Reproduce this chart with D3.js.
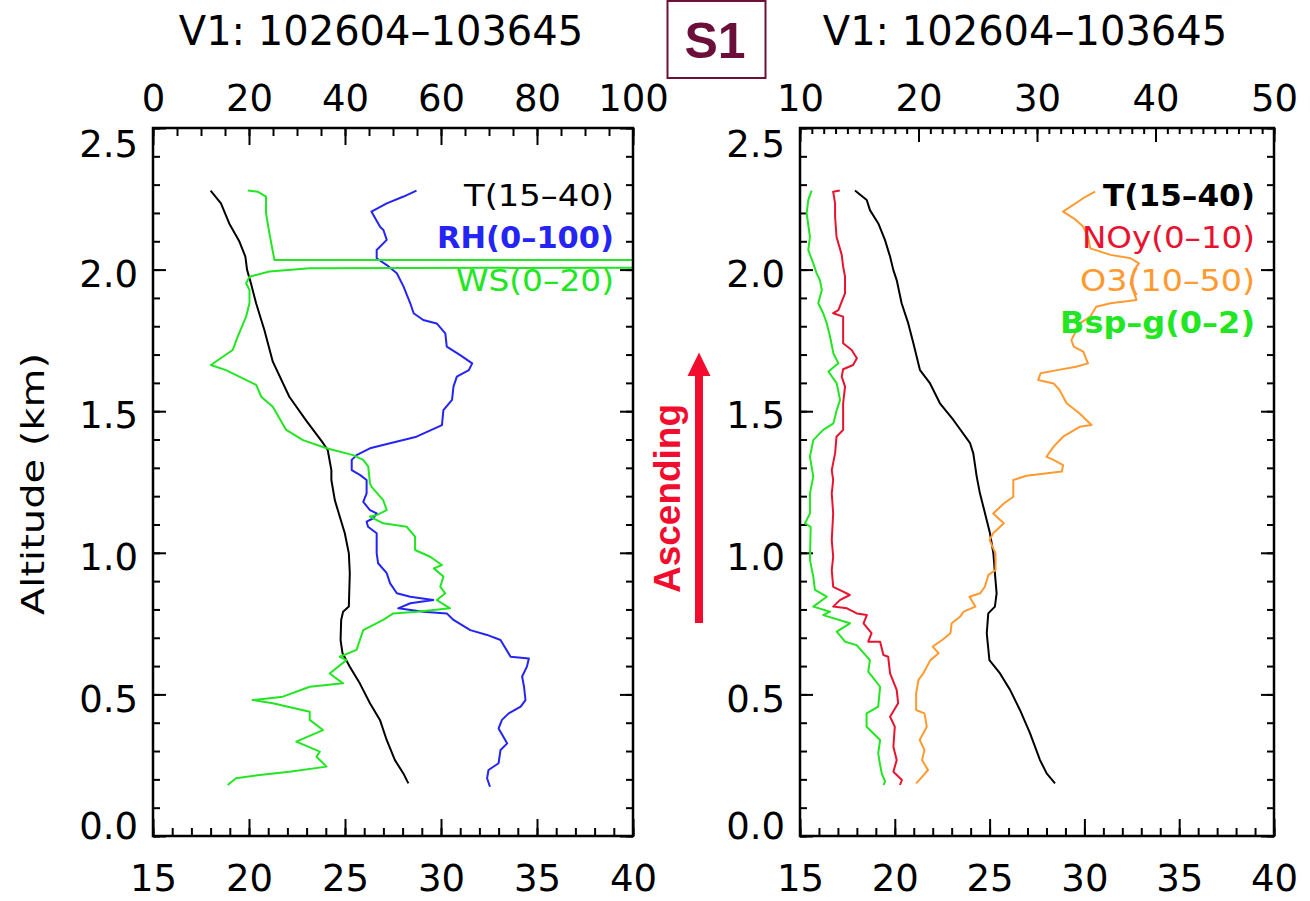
<!DOCTYPE html>
<html><head><meta charset="utf-8">
<script src="https://cdn.jsdelivr.net/npm/d3@7"></script>
<style>
html,body{margin:0;padding:0;background:#fff;}
svg{display:block;}
</style></head><body>
<svg id="c" width="1310" height="901"></svg>
<script>
// ---------------- DATA ----------------
// Each series: [value, altitude km]
const tempLeft = [[18.0,2.279],[18.54,2.234],[18.97,2.163],[19.5,2.099],[19.81,2.046],[19.9,1.999],[20.1,1.952],[20.37,1.881],[20.8,1.787],[21.24,1.675],[22.1,1.551],[22.99,1.466],[23.86,1.387],[24.1,1.363],[24.29,1.292],[24.29,1.257],[24.47,1.186],[24.73,1.127],[24.99,1.069],[25.2,0.998],[25.25,0.928],[25.2,0.81],[24.9,0.792],[24.8,0.763],[24.77,0.692],[24.87,0.645],[25.25,0.598],[25.77,0.539],[26.3,0.469],[26.82,0.41],[27.17,0.339],[27.6,0.268],[28.04,0.221],[28.3,0.186]];
const rhLeft = [[54.9,2.279],[52.2,2.258],[48.7,2.234],[45.5,2.205],[47.3,2.151],[48.0,2.14],[48.7,2.105],[46.6,2.069],[46.6,2.04],[48.7,2.016],[50.8,1.987],[52.2,1.94],[53.6,1.881],[54.3,1.846],[56.3,1.822],[59.1,1.81],[60.9,1.775],[61.2,1.728],[64.0,1.698],[66.5,1.669],[65.8,1.645],[63.3,1.622],[62.6,1.587],[62.3,1.54],[60.5,1.504],[60.2,1.451],[54.9,1.41],[49.4,1.387],[45.2,1.369],[42.4,1.345],[41.4,1.328],[41.4,1.292],[43.1,1.275],[44.5,1.257],[44.5,1.21],[43.8,1.18],[45.2,1.151],[46.6,1.139],[45.9,1.122],[44.5,1.11],[44.8,1.092],[46.6,1.069],[46.6,0.998],[46.9,0.963],[48.7,0.928],[49.4,0.892],[50.8,0.857],[53.6,0.845],[58.4,0.833],[53.6,0.822],[51.1,0.804],[56.3,0.792],[61.2,0.786],[62.6,0.763],[66.1,0.727],[69.6,0.71],[72.4,0.692],[74.5,0.633],[78.3,0.627],[77.9,0.598],[76.9,0.563],[77.3,0.527],[77.6,0.48],[76.6,0.457],[74.1,0.433],[72.7,0.41],[72.0,0.38],[73.8,0.327],[72.4,0.304],[72.0,0.257],[69.9,0.233],[69.6,0.204],[70.2,0.174]];
const wsLeft = [[3.95,2.279],[4.36,2.275],[4.71,2.258],[4.71,2.199],[4.85,2.128],[5.06,2.034],[60,2.034],[60,2.012],[6.53,2.005],[4.85,1.993],[4.02,1.975],[3.88,1.952],[4.02,1.928],[4.02,1.881],[3.88,1.834],[3.53,1.763],[3.32,1.716],[2.41,1.663],[3.04,1.645],[4.3,1.593],[4.51,1.551],[4.99,1.516],[5.55,1.434],[6.25,1.398],[7.23,1.369],[8.34,1.345],[8.76,1.328],[8.97,1.304],[9.04,1.245],[9.11,1.233],[9.59,1.186],[9.74,1.151],[9.32,1.133],[9.04,1.128],[9.59,1.104],[10.57,1.092],[10.92,1.057],[10.92,1.01],[11.55,0.986],[12.04,0.957],[11.7,0.945],[12.1,0.916],[11.97,0.88],[12.18,0.857],[11.83,0.833],[12.38,0.804],[11.0,0.792],[10.01,0.786],[9.59,0.763],[8.76,0.727],[8.62,0.692],[8.48,0.657],[7.78,0.633],[8.06,0.621],[7.36,0.574],[7.92,0.539],[6.53,0.527],[5.41,0.492],[4.15,0.48],[4.99,0.469],[6.53,0.439],[6.53,0.41],[7.08,0.374],[5.97,0.333],[6.95,0.298],[6.81,0.28],[7.23,0.245],[5.69,0.227],[4.44,0.215],[3.46,0.204],[3.11,0.18]];

const tempRight = [[17.9,2.279],[18.52,2.246],[18.69,2.21],[19.13,2.163],[19.48,2.105],[19.75,2.046],[19.92,1.999],[20.1,1.963],[20.36,1.881],[20.71,1.81],[20.98,1.74],[21.33,1.645],[21.86,1.598],[22.38,1.528],[23.09,1.469],[23.97,1.387],[24.14,1.351],[24.32,1.269],[24.49,1.21],[24.76,1.139],[25.02,1.069],[25.2,0.998],[25.28,0.928],[25.37,0.857],[25.28,0.81],[24.93,0.786],[24.85,0.716],[24.99,0.621],[25.55,0.574],[26.08,0.516],[26.6,0.445],[27.13,0.363],[27.66,0.268],[28.01,0.221],[28.45,0.186]];
const noyRight = [[0.84,2.279],[0.70,2.275],[0.74,2.234],[0.74,2.187],[0.77,2.116],[0.88,2.052],[0.91,2.011],[0.95,1.975],[0.95,1.916],[0.88,1.887],[0.81,1.857],[0.70,1.846],[0.91,1.834],[0.91,1.74],[1.09,1.716],[1.2,1.687],[1.12,1.663],[0.91,1.648],[0.88,1.622],[0.95,1.587],[0.91,1.528],[0.91,1.434],[0.77,1.41],[0.74,1.351],[0.67,1.292],[0.70,1.257],[0.67,1.21],[0.70,1.139],[0.67,1.045],[0.70,0.986],[0.67,0.939],[0.70,0.88],[0.91,0.863],[1.05,0.851],[0.84,0.833],[0.70,0.81],[0.99,0.804],[1.2,0.786],[1.41,0.78],[1.34,0.751],[1.51,0.716],[1.44,0.686],[1.69,0.686],[1.76,0.639],[1.86,0.633],[1.90,0.574],[2.04,0.516],[2.07,0.469],[1.90,0.421],[2.0,0.386],[1.97,0.315],[2.04,0.268],[1.97,0.227],[2.15,0.198],[2.11,0.18]];
const o3Right = [[34.9,2.275],[33.9,2.252],[32.2,2.205],[33.1,2.181],[33.9,2.152],[34.3,2.116],[34.5,2.075],[36.2,2.052],[37.9,2.04],[38.6,2.022],[38.2,1.999],[37.9,1.952],[38.4,1.893],[36.2,1.881],[35.0,1.869],[34.5,1.834],[33.6,1.81],[33.2,1.775],[32.9,1.751],[33.1,1.728],[33.9,1.71],[34.3,1.669],[33.3,1.657],[31.7,1.645],[30.3,1.634],[30.1,1.61],[31.4,1.598],[31.9,1.575],[32.5,1.528],[33.6,1.492],[34.6,1.451],[33.6,1.445],[32.2,1.41],[31.4,1.375],[30.8,1.339],[31.4,1.328],[32.2,1.31],[32.1,1.287],[29.1,1.272],[28.0,1.257],[28.0,1.198],[27.2,1.174],[26.3,1.139],[27.2,1.104],[26.3,1.069],[26.0,1.045],[26.5,0.998],[26.5,0.939],[25.9,0.922],[25.6,0.88],[25.2,0.857],[24.3,0.845],[24.8,0.81],[23.8,0.792],[23.5,0.774],[22.8,0.751],[22.7,0.716],[22.0,0.692],[21.2,0.669],[21.7,0.645],[21.0,0.621],[20.4,0.574],[20.0,0.551],[19.8,0.504],[19.8,0.445],[20.5,0.433],[20.7,0.386],[20.1,0.339],[20.5,0.304],[20.3,0.268],[20.8,0.233],[20.3,0.209],[19.8,0.186]];
const bspRight = [[0.049,2.279],[0.035,2.246],[0.028,2.199],[0.042,2.116],[0.035,2.069],[0.056,2.022],[0.070,1.987],[0.084,1.963],[0.092,1.928],[0.077,1.881],[0.098,1.846],[0.113,1.81],[0.127,1.763],[0.141,1.704],[0.162,1.669],[0.12,1.64],[0.155,1.598],[0.169,1.54],[0.155,1.504],[0.141,1.457],[0.098,1.434],[0.056,1.398],[0.042,1.339],[0.056,1.269],[0.042,1.21],[0.042,1.139],[0.021,1.104],[0.045,1.092],[0.042,0.975],[0.056,0.916],[0.063,0.869],[0.113,0.845],[0.056,0.81],[0.127,0.792],[0.098,0.78],[0.211,0.751],[0.155,0.722],[0.19,0.686],[0.239,0.674],[0.295,0.621],[0.288,0.58],[0.338,0.527],[0.33,0.457],[0.281,0.433],[0.281,0.386],[0.338,0.339],[0.33,0.292],[0.338,0.251],[0.345,0.221],[0.359,0.192],[0.352,0.18]];

// tick labels
const altTicks = [0,0.5,1.0,1.5,2.0,2.5];
const tempTicks = [15,20,25,30,35,40];
const rhTicks = [0,20,40,60,80,100];
const o3Ticks = [10,20,30,40,50];
const titleText = "V1: 102604\u2013103645";
const legendLeft = [["T(15\u201340)","#000"],["RH(0\u2013100)","#2424f4"],["WS(0\u201320)","#22e622"]];
const legendRight = [["T(15\u201340)","#000"],["NOy(0\u201310)","#e8132f"],["O3(10\u201350)","#ff9a30"],["Bsp\u2013g(0\u20132)","#22e622"]];

// ---------------- LAYOUT ----------------
const svg = d3.select("#c");
svg.append("rect").attr("width",1310).attr("height",901).attr("fill","#fff");
const yTop = 128, yBot = 836;
const P = [{x0:153,x1:633},{x0:800,x1:1274}];
const y = d3.scaleLinear().domain([0,2.5]).range([yBot,yTop]);
const FONT = "'DejaVu Sans', sans-serif";

const COL = {black:"#000", blue:"#2424f4", green:"#22e622", red:"#e8132f", orange:"#ff9a30"};

function tickGroup(axisGen, scale, values, size, tx, ty){
  const a = svg.append("g").attr("transform",`translate(${tx},${ty})`)
    .call(axisGen(scale).tickValues(values).tickSize(size).tickFormat(""));
  a.select(".domain").remove();
  a.selectAll("line").attr("stroke","#000").attr("stroke-width",2);
  return a;
}
function labelGroup(axisGen, scale, values, pad, tx, ty, fmt){
  const a = svg.append("g").attr("transform",`translate(${tx},${ty})`)
    .call(axisGen(scale).tickValues(values).tickSize(0).tickPadding(pad).tickFormat(fmt));
  a.select(".domain").remove();
  a.selectAll("text").attr("font-family",FONT).attr("font-size",37).attr("fill","#000");
  return a;
}
function range(a,b,s){ return d3.range(a,b+s/2,s); }

function drawPanel(p, idx, bottomScale, topScale, topMajor, topMinor, lines, legend){
  // clip
  svg.append("clipPath").attr("id","clip"+idx).append("rect")
    .attr("x",p.x0).attr("y",yTop).attr("width",p.x1-p.x0).attr("height",yBot-yTop);
  // y ticks both sides
  const yMinor = range(0,2.5,0.1);
  tickGroup(d3.axisRight, y, yMinor, 7, p.x0, 0);
  tickGroup(d3.axisRight, y, altTicks, 13, p.x0, 0);
  tickGroup(d3.axisLeft, y, yMinor, 7, p.x1, 0);
  tickGroup(d3.axisLeft, y, altTicks, 13, p.x1, 0);
  // y labels
  const yl = labelGroup(d3.axisLeft, y, altTicks, 15, p.x0, 0, d3.format(".1f"));
  yl.selectAll("text").attr("dy", d => d===2.5 ? "0.775em" : (d===0 ? "0.055em" : "0.45em"));
  // bottom axis
  tickGroup(d3.axisTop, bottomScale, range(15,40,1), 8, 0, yBot);
  tickGroup(d3.axisTop, bottomScale, tempTicks, 17, 0, yBot);
  labelGroup(d3.axisBottom, bottomScale, tempTicks, 29, 0, yBot, d3.format("d"));
  // top axis
  tickGroup(d3.axisBottom, topScale, topMinor, idx===0?8:6, 0, yTop);
  tickGroup(d3.axisBottom, topScale, topMajor, idx===0?17:14, 0, yTop);
  labelGroup(d3.axisTop, topScale, topMajor, 17, 0, yTop, d3.format("d"));
  // lines
  lines.forEach(l=>{
    svg.append("path").datum(l.data).attr("clip-path",`url(#clip${idx})`)
      .attr("d", d3.line().x(d=>l.scale(d[0])).y(d=>y(d[1])))
      .attr("fill","none").attr("stroke",l.color).attr("stroke-width",2)
      .attr("stroke-linejoin","round");
  });
  // frame
  svg.append("rect").attr("x",p.x0).attr("y",yTop).attr("width",p.x1-p.x0).attr("height",yBot-yTop)
    .attr("fill","none").attr("stroke","#000").attr("stroke-width",2.5);
  // title
  svg.append("text").attr("x",(p.x0+p.x1)/2-12).attr("y",45).attr("text-anchor","middle")
    .attr("font-family",FONT).attr("font-size",40).attr("fill","#000").text(titleText);
  // legend
  legend.forEach((L,i)=>{
    svg.append("text").attr("x",p.x1-19).attr("y",206+i*42.4).attr("text-anchor","end")
      .attr("font-family",FONT).attr("font-size",30).attr("fill",L.color)
      .attr("font-weight",L.bold?"bold":"normal")
      .attr("textLength",L.w).attr("lengthAdjust","spacingAndGlyphs").text(L.text);
  });
}

// left panel scales
const tL = d3.scaleLinear().domain([15,40]).range([P[0].x0,P[0].x1]);
const rhS = d3.scaleLinear().domain([0,100]).range([P[0].x0,P[0].x1]);
const wsS = d3.scaleLinear().domain([0,20]).range([P[0].x0,P[0].x1]);
drawPanel(P[0],0,tL,rhS,rhTicks,range(0,100,5),
  [{data:tempLeft,scale:tL,color:COL.black},{data:rhLeft,scale:rhS,color:COL.blue},{data:wsLeft,scale:wsS,color:COL.green}],
  [{text:legendLeft[0][0],color:legendLeft[0][1],w:150},
   {text:legendLeft[1][0],color:legendLeft[1][1],w:177,bold:true},
   {text:legendLeft[2][0],color:legendLeft[2][1],w:158}]);

// right panel scales
const tR = d3.scaleLinear().domain([15,40]).range([P[1].x0,P[1].x1]);
const o3S = d3.scaleLinear().domain([10,50]).range([P[1].x0,P[1].x1]);
const noyS = d3.scaleLinear().domain([0,10]).range([P[1].x0,P[1].x1]);
const bspS = d3.scaleLinear().domain([0,2]).range([P[1].x0,P[1].x1]);
drawPanel(P[1],1,tR,o3S,o3Ticks,range(10,50,1),
  [{data:tempRight,scale:tR,color:COL.black},{data:noyRight,scale:noyS,color:COL.red},
   {data:o3Right,scale:o3S,color:COL.orange},{data:bspRight,scale:bspS,color:COL.green}],
  [{text:legendRight[0][0],color:legendRight[0][1],w:152,bold:true},
   {text:legendRight[1][0],color:legendRight[1][1],w:173},
   {text:legendRight[2][0],color:legendRight[2][1],w:175},
   {text:legendRight[3][0],color:legendRight[3][1],w:195,bold:true}]);

// Altitude label
svg.append("text").attr("transform","translate(44,484) rotate(-90)").attr("text-anchor","middle")
  .attr("font-family",FONT).attr("font-size",32).attr("fill","#000")
  .attr("textLength",262).attr("lengthAdjust","spacingAndGlyphs").text("Altitude (km)");

// S1 box
svg.append("rect").attr("x",667.5).attr("y",1).attr("width",98).attr("height",77)
  .attr("fill","#fff").attr("stroke","#6b1238").attr("stroke-width",2);
svg.append("text").attr("x",715).attr("y",58).attr("text-anchor","middle")
  .attr("font-family","'Liberation Sans', Arial, sans-serif").attr("font-weight","bold")
  .attr("font-size",50).attr("fill","#6b0f3a").text("S1");

// Ascending arrow
const RED = "#f20c2e";
svg.append("line").attr("x1",699).attr("x2",699).attr("y1",623).attr("y2",372)
  .attr("stroke",RED).attr("stroke-width",8);
svg.append("path").attr("d","M699,352.5 L687.5,376 L710.5,376 Z").attr("fill",RED);
svg.append("text").attr("transform","translate(680,498.5) rotate(-90)").attr("text-anchor","middle")
  .attr("font-family","'Liberation Sans', Arial, sans-serif").attr("font-weight","bold")
  .attr("font-size",37).attr("fill",RED).text("Ascending");
</script>
</body></html>
